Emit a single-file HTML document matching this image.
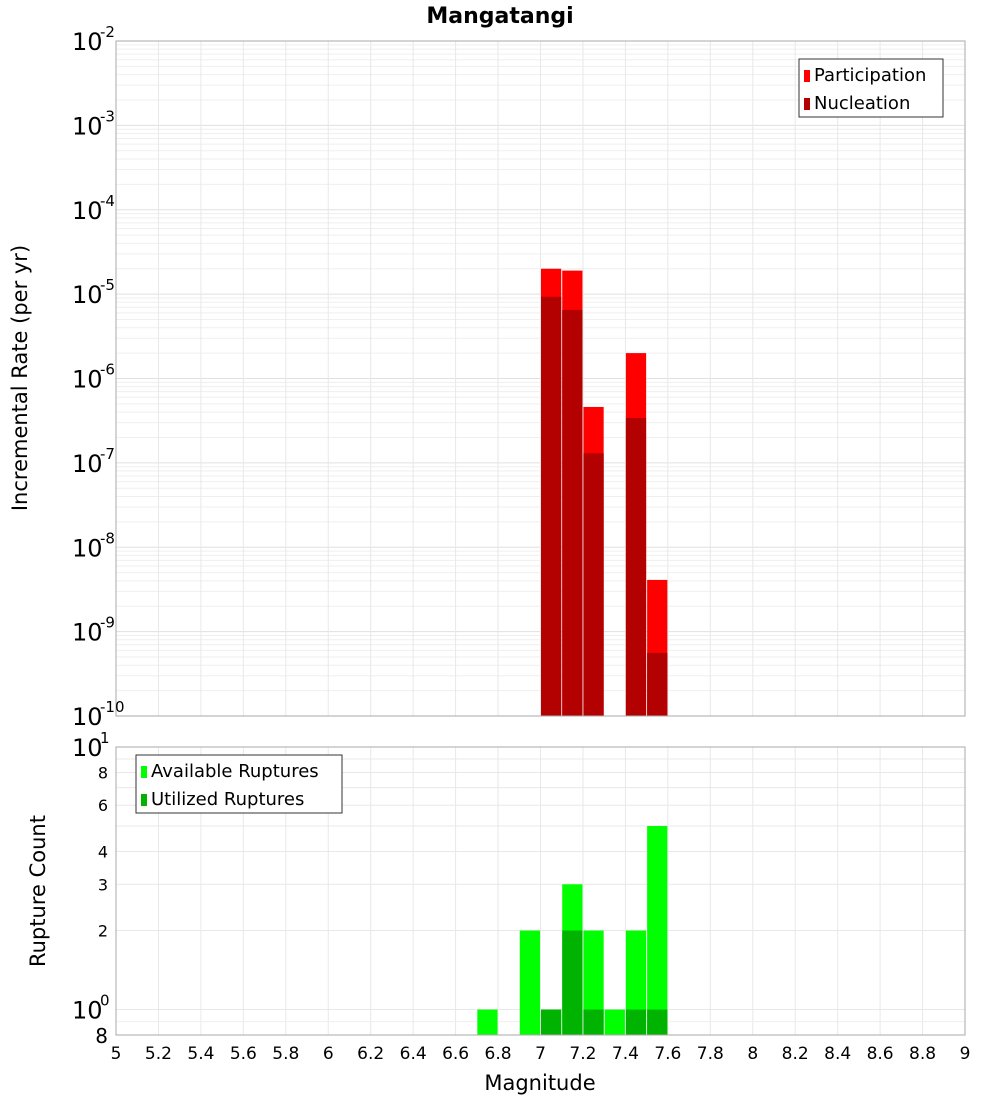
<!DOCTYPE html>
<html><head><meta charset="utf-8"><style>
body{margin:0;background:#fff;}
svg text{font-family:"DejaVu Sans","Liberation Sans",sans-serif;}
</style></head><body>
<svg id="c" width="1000" height="1100" xmlns="http://www.w3.org/2000/svg"></svg>
<script>
const mags=[6.75,6.85,6.95,7.05,7.15,7.25,7.35,7.45,7.55];
const participation=[0,0,0,2.0e-5,1.9e-5,4.6e-7,0,2.0e-6,4.1e-9];
const nucleation=[0,0,0,9.3e-6,6.5e-6,1.3e-7,0,3.4e-7,5.6e-10];
const available=[1,0,2,1,3,2,1,2,5];
const utilized=[0,0,0,1,2,1,0,1,1];
const xTicks=[5,5.2,5.4,5.6,5.8,6,6.2,6.4,6.6,6.8,7,7.2,7.4,7.6,7.8,8,8.2,8.4,8.6,8.8,9];
const topExp=[-10,-9,-8,-7,-6,-5,-4,-3,-2];
const botTicks=[8,2,3,4,6,8];

const svg=document.getElementById('c');const NS='http://www.w3.org/2000/svg';
function el(t,a,p){const e=document.createElementNS(NS,t);for(const k in a)e.setAttribute(k,a[k]);(p||svg).appendChild(e);return e;}
const X0=116,X1=965;
const x=m=>X0+(m-5)/4*(X1-X0);
const T0=41,T1=716;
const yT=v=>T0+(-2-Math.log10(v))/8*(T1-T0);
const B0=747,B1=1035,lmin=Math.log10(0.8);
const yB=v=>B0+(1-Math.log10(v))/(1-lmin)*(B1-B0);
const bw=(X1-X0)/40;

// title
let t=el('text',{x:500,y:23,'text-anchor':'middle','font-size':22,'font-weight':'bold'});t.textContent='Mangatangi';


// grids top
const gT=el('g',{});
for(let e=-10;e<-2;e++)for(let k=1;k<10;k++){const yy=yT(k*Math.pow(10,e));el('line',{x1:X0,x2:X1,y1:yy,y2:yy,stroke:k==1?'#e0e0e0':'#efefef','stroke-width':1},gT);}
xTicks.forEach(m=>{el('line',{x1:x(m),x2:x(m),y1:T0,y2:T1,stroke:'#e8e8e8'},gT);el('line',{x1:x(m),x2:x(m),y1:B0,y2:B1,stroke:'#e8e8e8'},gT);});
for(let k=1;k<=10;k++){const yy=yB(k);el('line',{x1:X0,x2:X1,y1:yy,y2:yy,stroke:'#e8e8e8'},gT);}
el('line',{x1:X0,x2:X1,y1:yB(0.9),y2:yB(0.9),stroke:'#efefef'},gT);

// top bars
mags.forEach((m,i)=>{
 if(participation[i]>0){const r=el('rect',{x:x(m)-bw/2+0.5,y:yT(participation[i]),width:bw-1,height:T1-yT(participation[i]),fill:'#ff0000'});}
 if(nucleation[i]>0){const r=el('rect',{x:x(m)-bw/2+0.5,y:yT(nucleation[i]),width:bw-1,height:T1-yT(nucleation[i]),fill:'#b30000'});}
});
// bottom bars
mags.forEach((m,i)=>{
 if(available[i]>0){const r=el('rect',{x:x(m)-bw/2+0.5,y:yB(available[i]),width:bw-1,height:B1-yB(available[i]),fill:'#00ff00'});}
 if(utilized[i]>0){const r=el('rect',{x:x(m)-bw/2+0.5,y:yB(utilized[i]),width:bw-1,height:B1-yB(utilized[i]),fill:'#00b300'});}
});
// frames
let f=el('rect',{x:X0,y:T0,width:X1-X0,height:T1-T0,fill:'none',stroke:'#aaa'});
f=el('rect',{x:X0,y:B0,width:X1-X0,height:B1-B0,fill:'none',stroke:'#aaa'});

// top y ticks
topExp.forEach(e=>{const yy=yT(Math.pow(10,e));
 const tx=el('text',{x:72,y:yy+9,'font-size':24});tx.textContent='10';
 
 const s=el('text',{x:100,y:yy-4,'font-size':15});s.textContent=String(e);
});
// bottom y ticks
const by=[[10,'10','1'],[8,'8'],[6,'6'],[4,'4'],[3,'3'],[2,'2'],[1,'10','0'],[0.8,'8']];
by.forEach(b=>{const yy=yB(b[0]);
 if(b[2]){const tx=el('text',{x:72,y:yy+9,'font-size':24});tx.textContent=b[1];const s=el('text',{x:100,y:yy-4,'font-size':15});s.textContent=b[2];}
 else{const big=b[0]==0.8;const tx=el('text',{x:108,y:yy+(big?8:6),'font-size':big?20:16,'text-anchor':'end'});tx.textContent=b[1];}
});
// x ticks
xTicks.forEach(m=>{const tx=el('text',{x:x(m),y:1059,'font-size':17,'text-anchor':'middle'});tx.textContent=String(m);});
t=el('text',{x:540,y:1090,'font-size':21,'text-anchor':'middle'});t.textContent='Magnitude';
t=el('text',{x:0,y:0,'font-size':21,'text-anchor':'middle',transform:'translate(27,378) rotate(-90)'});t.textContent='Incremental Rate (per yr)';
t=el('text',{x:0,y:0,'font-size':21,'text-anchor':'middle',transform:'translate(45,891) rotate(-90)'});t.textContent='Rupture Count';

// legends
function legend(x0,y0,w,items,name){const g=el('g',{});
 el('rect',{x:x0,y:y0,width:w,height:58,fill:'#fff',stroke:'#333'},g);
 items.forEach((it,i)=>{el('rect',{x:x0+5,y:y0+11+i*28,width:6,height:12,fill:it[1]},g);const tx=el('text',{x:x0+15,y:y0+22+i*28,'font-size':18},g);tx.textContent=it[0];});}
legend(799,59,144,[['Participation','#ff0000'],['Nucleation','#b30000']],'top-legend');
legend(136,755,206,[['Available Ruptures','#00ff00'],['Utilized Ruptures','#00b300']],'bottom-legend');
</script>
</body></html>
